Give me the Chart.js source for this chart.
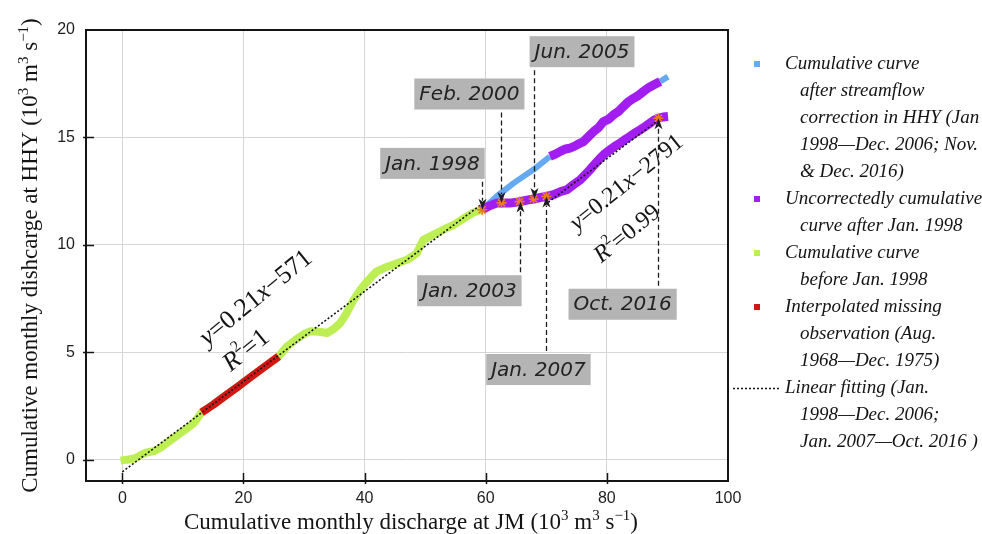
<!DOCTYPE html>
<html>
<head>
<meta charset="utf-8">
<script src="https://cdn.jsdelivr.net/npm/chart.js@4.4.1/dist/chart.umd.min.js"></script>
<style>
  html, body { margin: 0; padding: 0; background: #fff; }
  #wrap { width: 982px; height: 534px; }
</style>
</head>
<body>
<div id="wrap"><canvas id="c" width="982" height="534"></canvas></div>
<script>
// Cumulative monthly discharge, 10^3 m^3 s^-1 (x: JM, y: HHY)

// Before Jan. 1998
const beforeX = [-0.3, 1.0, 2.0, 3.0, 4.0, 5.2, 6.3, 7.4, 8.5, 9.6, 10.7, 11.8, 13.1, 15.0, 17.0, 19.0, 21.0, 23.0, 25.8,
  27.2, 28.5, 30.0, 31.0, 32.5, 33.8, 35.0, 36.0, 37.0, 38.2, 39.3, 40.4, 42.0, 43.5, 45.0, 47.0, 48.6, 49.7,
  51.4, 53.0, 54.7, 56.9, 58.0, 59.4];
const beforeY = [-0.05, 0.0, 0.05, 0.2, 0.33, 0.39, 0.55, 0.78, 1.0, 1.24, 1.45, 1.7, 2.2, 2.55, 2.97, 3.38, 3.8, 4.22, 4.8,
  5.27, 5.55, 5.85, 5.97, 5.95, 5.89, 6.1, 6.36, 6.8, 7.44, 7.9, 8.29, 8.76, 8.95, 9.1, 9.3, 9.6, 10.23,
  10.47, 10.7, 10.93, 11.32, 11.5, 11.63];

// Interpolated missing observation (Aug. 1968 - Dec. 1975)
const interpX = [13.1, 15.0, 17.0, 19.0, 21.0, 23.0, 25.8];
const interpY = [2.2, 2.55, 2.97, 3.38, 3.8, 4.22, 4.8];

// After streamflow correction (Jan. 1998 - Dec. 2006; Nov. & Dec. 2016)
const correctedX = [59.4, 61.8, 64.6, 67.9, 70.6, 79.7, 88.8, 90.1];
const correctedY = [11.63, 12.25, 12.87, 13.5, 14.11, null, 17.6, 17.83];

// Uncorrected, upper branch (Jan. 2007 - Oct. 2016)
const uncorrUpperX = [70.6, 71.5, 72.4, 73.2, 73.9, 74.6, 75.4, 76.1, 76.9, 77.8, 78.6, 79.4, 80.3, 81.1,
  81.9, 82.7, 83.5, 84.4, 85.2, 86.0, 86.8, 87.7, 88.8];
const uncorrUpperY = [14.11, 14.22, 14.36, 14.46, 14.5, 14.58, 14.7, 14.8, 15.02, 15.27, 15.45, 15.73, 15.85, 16.05,
  16.2, 16.43, 16.65, 16.82, 16.95, 17.13, 17.3, 17.44, 17.6];

// Uncorrected, lower branch (after Jan. 1998)
const uncorrLowerX = [59.4, 60.5, 61.8, 63.0, 64.0, 65.7, 66.8, 67.9, 69.0, 70.1, 71.2, 72.4, 73.4, 74.5, 75.6,
  76.4, 77.2, 78.0, 78.9, 79.7, 80.5, 81.3, 82.2, 83.0, 83.8, 84.6, 85.5, 86.3, 87.1, 87.8, 88.5, 89.3, 90.1];
const uncorrLowerY = [11.63, 11.8, 11.94, 11.95, 11.94, 12.01, 12.08, 12.13, 12.2, 12.25, 12.33, 12.48, 12.56, 12.8, 13.02,
  13.25, 13.49, 13.75, 14.03, 14.25, 14.42, 14.58, 14.73, 14.9, 15.04, 15.2, 15.35, 15.5, 15.66, 15.8, 15.89, 15.95, 15.97];

// Marked months on the lower branch
const eventLabels = ['Jan. 1998', 'Feb. 2000', 'Jan. 2003', 'Jun. 2005', 'Jan. 2007', 'Oct. 2016'];
const eventX = [59.4, 62.6, 65.6, 67.9, 70.0, 88.5];
const eventY = [11.63, 11.95, 12.01, 12.13, 12.25, 15.89];

// Linear fits, y = slope*x + intercept (intercept in m^3 s^-1)
const fitSlope = [0.21, 0.21];
const fitIntercept = [-571, -2791];
const fitR2 = ['1', '0.99'];
const fitFrom = [0, 69.8];
const fitTo = [59.4, 88.6];

const xTicks = [0, 20, 40, 60, 80, 100];
const yTicks = [0, 5, 10, 15, 20];

// ---- layout / styling ----
const COLORS = { blue: '#64a9f2', purple: '#a21ef0', green: '#bdef55', red: '#d11616', star: '#f07a1e', ink: '#141414' };
const SERIF = '"Liberation Serif", "Times New Roman", serif';
const SANS = '"Liberation Sans", Arial, sans-serif';

// callout box centres (data units) and arrow direction for each marked month
const calloutBoxes = [
  { cx: 51.2, cy: 13.79, dir: 'down' },
  { cx: 57.3, cy: 17.02, dir: 'down' },
  { cx: 57.3, cy: 7.86, dir: 'up' },
  { cx: 75.9, cy: 18.99, dir: 'down' },
  { cx: 68.7, cy: 4.19, dir: 'up' },
  { cx: 82.6, cy: 7.23, dir: 'up' }
];
// equation label centres (data units), rotation and font size
const eqPlacement = [
  { eq: [22.1, 7.51], r2: [20.5, 5.07], angle: -39, size: 26 },
  { eq: [83.3, 12.88], r2: [83.4, 10.5], angle: -39, size: 24 }
];

const pts = (xs, ys) => xs.map((x, i) => ({ x: x, y: ys[i] }));
const fmtIntercept = v => (v < 0 ? '\u2212' : '+') + Math.abs(v);

const lineBase = { showLine: true, pointRadius: 0, borderWidth: 8, fill: false, tension: 0, borderJoinStyle: 'round', spanGaps: false };

const datasets = [
  Object.assign({}, lineBase, {
    label: 'Cumulative curve\nafter streamflow\ncorrection in HHY (Jan\n1998\u2014Dec. 2006; Nov.\n& Dec. 2016)',
    legend: true, data: pts(correctedX, correctedY), borderColor: COLORS.blue, backgroundColor: COLORS.blue, borderWidth: 6, order: 5
  }),
  Object.assign({}, lineBase, {
    label: 'Uncorrectedly cumulative\ncurve after Jan. 1998',
    legend: true, data: pts(uncorrLowerX, uncorrLowerY), borderColor: COLORS.purple, backgroundColor: COLORS.purple, borderWidth: 9, order: 4
  }),
  Object.assign({}, lineBase, {
    label: 'upper', data: pts(uncorrUpperX, uncorrUpperY), borderColor: COLORS.purple, backgroundColor: COLORS.purple, borderWidth: 9, order: 4
  }),
  Object.assign({}, lineBase, {
    label: 'Cumulative curve\nbefore Jan. 1998',
    legend: true, data: pts(beforeX, beforeY), borderColor: COLORS.green, backgroundColor: COLORS.green, order: 6
  }),
  Object.assign({}, lineBase, {
    label: 'Interpolated missing\nobservation (Aug.\n1968\u2014Dec. 1975)',
    legend: true, data: pts(interpX, interpY), borderColor: COLORS.red, backgroundColor: COLORS.red, order: 3
  })
];
fitSlope.forEach((s, i) => {
  const f = x => s * x + fitIntercept[i] / 1000;
  datasets.push({
    label: 'Linear fitting (Jan.\n1998\u2014Dec. 2006;\nJan. 2007\u2014Oct. 2016 )',
    legend: i === 0, dotted: true,
    data: [{ x: fitFrom[i], y: f(fitFrom[i]) }, { x: fitTo[i], y: f(fitTo[i]) }],
    showLine: true, pointRadius: 0, borderColor: COLORS.ink, borderWidth: 1.6, borderDash: [2, 2], order: 2
  });
});
datasets.push({
  label: 'events', data: pts(eventX, eventY), showLine: false, pointStyle: 'star', pointRadius: 5,
  borderColor: COLORS.star, backgroundColor: COLORS.star, pointBorderWidth: 1.6, order: 1
});

// draw a run of text segments (plain / italic / superscript)
function richWidth(ctx, segs) {
  let w = 0;
  segs.forEach(s => { ctx.font = s.font; s.w = ctx.measureText(s.t).width; w += s.w; });
  return w;
}
function drawRich(ctx, segs, x, y, align) {
  const w = richWidth(ctx, segs);
  let cx = align === 'center' ? x - w / 2 : (align === 'right' ? x - w : x);
  ctx.textAlign = 'left';
  segs.forEach(s => { ctx.font = s.font; ctx.fillText(s.t, cx, y + (s.dy || 0)); cx += s.w; });
  return w;
}

const framePlugin = {
  id: 'frame',
  beforeDatasetsDraw(chart) {
    const { ctx, chartArea: a, scales } = chart;
    ctx.save();
    ctx.strokeStyle = COLORS.ink;
    ctx.lineWidth = 2;
    ctx.beginPath();
    ctx.moveTo(a.left, a.top); ctx.lineTo(a.right, a.top); ctx.lineTo(a.right, a.bottom);
    ctx.stroke();
    // tick marks crossing the axes
    ctx.lineWidth = 1.5;
    yTicks.forEach(v => {
      const py = Math.round(scales.y.getPixelForValue(v)) + 0.5;
      if (Math.abs(py - a.top) < 3) return;
      ctx.beginPath(); ctx.moveTo(a.left - 3, py); ctx.lineTo(a.left + 8, py); ctx.stroke();
    });
    xTicks.forEach(v => {
      const px = Math.round(scales.x.getPixelForValue(v)) + 0.5;
      if (Math.abs(px - a.right) < 3) return;
      ctx.beginPath(); ctx.moveTo(px, a.bottom + 3); ctx.lineTo(px, a.bottom - 8); ctx.stroke();
    });
    ctx.restore();
  }
};

const annotationPlugin = {
  id: 'callouts',
  afterDatasetsDraw(chart) {
    const { ctx, scales: { x: sx, y: sy } } = chart;
    ctx.save();
    // equations
    ctx.fillStyle = COLORS.ink;
    ctx.textBaseline = 'middle';
    eqPlacement.forEach((p, i) => {
      const reg = p.size + 'px ' + SERIF, ita = 'italic ' + p.size + 'px ' + SERIF, sup = Math.round(p.size * 0.62) + 'px ' + SERIF;
      const eq = [{ t: 'y', font: ita }, { t: '=' + fitSlope[i], font: reg }, { t: 'x', font: ita }, { t: fmtIntercept(fitIntercept[i]), font: reg }];
      const r2 = [{ t: 'R', font: ita }, { t: '2', font: sup, dy: -p.size * 0.36 }, { t: '=' + fitR2[i], font: reg }];
      [[eq, p.eq], [r2, p.r2]].forEach(([segs, pos]) => {
        ctx.save();
        ctx.translate(sx.getPixelForValue(pos[0]), sy.getPixelForValue(pos[1]));
        ctx.rotate(p.angle * Math.PI / 180);
        drawRich(ctx, segs, 0, 0, 'center');
        ctx.restore();
      });
    });

    // callout boxes with dashed arrows
    ctx.font = 'italic 20px "DejaVu Sans", sans-serif';
    const boxH = 31;
    eventLabels.forEach((lab, i) => {
      const b = calloutBoxes[i];
      const bx = sx.getPixelForValue(b.cx), by = sy.getPixelForValue(b.cy);
      const tw = ctx.measureText(lab).width;
      const bw = tw + 10;
      ctx.fillStyle = '#b4b4b4';
      ctx.fillRect(bx - bw / 2, by - boxH / 2, bw, boxH);
      ctx.fillStyle = '#222';
      ctx.textAlign = 'center';
      ctx.textBaseline = 'middle';
      ctx.fillText(lab, bx, by + 1);

      const ax = Math.round(sx.getPixelForValue(eventX[i])) + 0.5;
      const tipY = sy.getPixelForValue(eventY[i]);
      const startY = b.dir === 'down' ? by + boxH / 2 + 3 : by - boxH / 2 - 3;
      const sgn = b.dir === 'down' ? 1 : -1;
      const headLen = 11, headW = 4, notch = 3;
      ctx.strokeStyle = '#1e1e1e';
      ctx.lineWidth = 1.3;
      ctx.setLineDash([5, 3]);
      ctx.beginPath();
      ctx.moveTo(ax, startY);
      ctx.lineTo(ax, tipY - sgn * (headLen - 2));
      ctx.stroke();
      ctx.setLineDash([]);
      ctx.fillStyle = '#1e1e1e';
      ctx.beginPath();
      ctx.moveTo(ax, tipY);
      ctx.lineTo(ax - headW, tipY - sgn * headLen);
      ctx.lineTo(ax, tipY - sgn * (headLen - notch));
      ctx.lineTo(ax + headW, tipY - sgn * headLen);
      ctx.closePath();
      ctx.fill();
    });
    ctx.restore();
  }
};

const legendPlugin = {
  id: 'sideLegend',
  afterDraw(chart) {
    const { ctx } = chart;
    const items = chart.data.datasets.filter(d => d.legend);
    ctx.save();
    ctx.font = 'italic 19px ' + SERIF;
    ctx.fillStyle = COLORS.ink;
    ctx.textBaseline = 'middle';
    ctx.textAlign = 'left';
    let y = 64;
    const step = 27;
    items.forEach(d => {
      if (d.dotted) {
        ctx.strokeStyle = COLORS.ink;
        ctx.lineWidth = 1.4;
        ctx.setLineDash([2, 2]);
        ctx.beginPath(); ctx.moveTo(733, y + 0.5); ctx.lineTo(779, y + 0.5); ctx.stroke();
        ctx.setLineDash([]);
      } else {
        ctx.fillStyle = d.borderColor;
        ctx.fillRect(754, y - 3, 6, 6);
      }
      ctx.fillStyle = COLORS.ink;
      d.label.split('\n').forEach((line, k) => {
        ctx.fillText(line, k === 0 ? 785 : 800, y);
        y += step;
      });
    });
    ctx.restore();
  }
};

const titlePlugin = {
  id: 'axisTitles',
  afterDraw(chart) {
    const { ctx, chartArea: a } = chart;
    const reg = '23px ' + SERIF, sup = '15px ' + SERIF;
    const unit = [
      { t: ' (10', font: reg }, { t: '3', font: sup, dy: -9 }, { t: ' m', font: reg }, { t: '3', font: sup, dy: -9 },
      { t: ' s', font: reg }, { t: '\u22121', font: sup, dy: -9 }, { t: ')', font: reg }
    ];
    ctx.save();
    ctx.fillStyle = COLORS.ink;
    ctx.textBaseline = 'alphabetic';
    drawRich(ctx, [{ t: 'Cumulative monthly discharge at JM', font: reg }].concat(unit.map(s => Object.assign({}, s))),
      (a.left + a.right) / 2 + 4, 529, 'center');
    ctx.translate(37, (a.top + a.bottom) / 2);
    ctx.rotate(-Math.PI / 2);
    drawRich(ctx, [{ t: 'Cumulative monthly dishcarge at HHY', font: reg }].concat(unit.map(s => Object.assign({}, s))),
      0, 0, 'center');
    ctx.restore();
  }
};

new Chart(document.getElementById('c'), {
  type: 'scatter',
  data: { datasets: datasets },
  options: {
    responsive: false,
    animation: false,
    devicePixelRatio: 1,
    layout: { padding: { top: 30, right: 254, left: 0, bottom: 0 } },
    plugins: { legend: { display: false }, tooltip: { enabled: false } },
    scales: {
      x: {
        type: 'linear', min: -6, max: 100,
        afterBuildTicks: s => { s.ticks = xTicks.map(v => ({ value: v })); },
        afterFit: s => { s.height = 53; },
        grid: { color: '#d6d6d6', lineWidth: 1, drawTicks: false },
        border: { display: true, color: COLORS.ink, width: 2 },
        ticks: { padding: 8, autoSkip: false, maxRotation: 0, color: '#1e1e1e', font: { family: SANS, size: 16 } }
      },
      y: {
        type: 'linear', min: -1, max: 20,
        afterBuildTicks: s => { s.ticks = yTicks.map(v => ({ value: v })); },
        afterFit: s => { s.width = 86; },
        grid: { color: '#d6d6d6', lineWidth: 1, drawTicks: false },
        border: { display: true, color: COLORS.ink, width: 2 },
        ticks: { padding: 11, autoSkip: false, color: '#1e1e1e', font: { family: SANS, size: 16 } }
      }
    }
  },
  plugins: [framePlugin, annotationPlugin, legendPlugin, titlePlugin]
});
</script>
</body>
</html>
